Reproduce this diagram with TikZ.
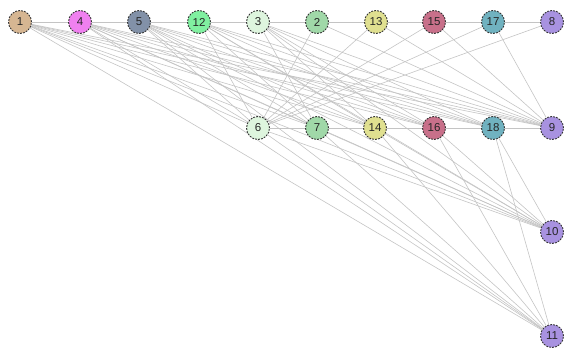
\documentclass[tikz,border=0pt]{standalone}
\usepackage{fontspec}
\setmainfont{Liberation Sans}
\usetikzlibrary{backgrounds}
\definecolor{cA}{RGB}{214,182,146}
\definecolor{cB}{RGB}{240,128,240}
\definecolor{cC}{RGB}{130,145,168}
\definecolor{cD}{RGB}{128,240,160}
\definecolor{cE}{RGB}{222,245,222}
\definecolor{cF}{RGB}{160,216,168}
\definecolor{cG}{RGB}{224,224,144}
\definecolor{cH}{RGB}{200,112,138}
\definecolor{cI}{RGB}{112,178,192}
\definecolor{cJ}{RGB}{168,146,224}
\definecolor{edgec}{RGB}{196,196,196}
\tikzset{
  vtx/.style={circle, draw=black!80, dashed, dash pattern=on 1.8pt off 1.2pt, line width=0.9pt,
    minimum size=23pt, inner sep=0pt, font=\fontsize{11.5}{12}\selectfont, text=black!85},
  lnk/.style={draw=edgec, line width=0.6pt}
}
\begin{document}
\begin{tikzpicture}[x=1pt,y=-1pt]
\useasboundingbox (0,0) rectangle (567,351);
% top row
\node[vtx, fill=cA] (n1)  at (20,22) {1};
\node[vtx, fill=cB] (n4)  at (80,22) {4};
\node[vtx, fill=cC] (n5)  at (139,22) {5};
\node[vtx, fill=cD] (n12) at (199,22) {12};
\node[vtx, fill=cE] (n3)  at (258,22) {3};
\node[vtx, fill=cF] (n2)  at (317,22) {2};
\node[vtx, fill=cG] (n13) at (376,22) {13};
\node[vtx, fill=cH] (n15) at (434,22) {15};
\node[vtx, fill=cI] (n17) at (493,22) {17};
\node[vtx, fill=cJ] (n8)  at (552,22) {8};
% middle row
\node[vtx, fill=cE] (n6)  at (258,128) {6};
\node[vtx, fill=cF] (n7)  at (317,128) {7};
\node[vtx, fill=cG] (n14) at (375,128) {14};
\node[vtx, fill=cH] (n16) at (434,128) {16};
\node[vtx, fill=cI] (n18) at (493,128) {18};
\node[vtx, fill=cJ] (n9)  at (552,128) {9};
% right column
\node[vtx, fill=cJ] (n10) at (552,232) {10};
\node[vtx, fill=cJ] (n11) at (552,336) {11};
\begin{scope}[on background layer]
  % chains
  \draw[lnk] (n1)--(n4)--(n5)--(n12)--(n3)--(n2)--(n13)--(n15)--(n17)--(n8);
  \draw[lnk] (n6)--(n7)--(n14)--(n16)--(n18)--(n9);
  % left sources to middle row and 9
  \foreach \s in {n1,n4,n5,n12}{
    \foreach \t in {n6,n7,n14,n16,n18,n9}{
      \draw[lnk] (\s)--(\t);
    }
  }
  \foreach \t in {n7,n14,n16,n18,n9}{
    \draw[lnk] (n3)--(\t);
  }
  % right top nodes to 6 and 9
  \foreach \s in {n2,n13,n15,n17,n8}{
    \draw[lnk] (\s)--(n6);
  }
  \foreach \s in {n2,n13,n15,n17}{
    \draw[lnk] (\s)--(n9);
  }
  % to 10 and 11
  \foreach \s in {n1,n4,n5,n6,n7,n14,n16,n18}{
    \draw[lnk] (\s)--(n10);
    \draw[lnk] (\s)--(n11);
  }
  \foreach \s in {n12,n3}{
    \draw[lnk] (\s)--(n10);
  }
\end{scope}
\end{tikzpicture}
\end{document}
